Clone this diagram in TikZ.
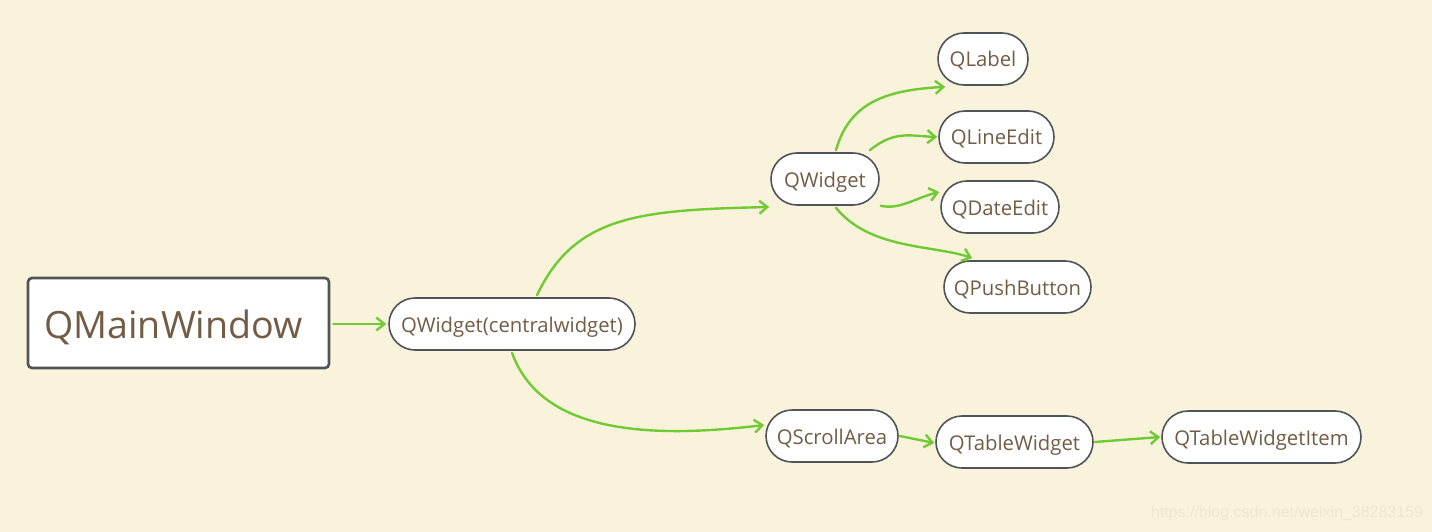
\documentclass[tikz,border=0pt]{standalone}
\usepackage{fontspec}
\setmainfont{Open Sans}
\newfontfamily\wmfont{Liberation Sans}
\usetikzlibrary{arrows.meta,calc}
\definecolor{bgc}{RGB}{250,243,220}
\definecolor{txt}{RGB}{115,92,68}
\definecolor{bord}{RGB}{78,84,90}
\definecolor{arr}{RGB}{112,202,52}
\definecolor{wm}{RGB}{236,230,210}
\tikzset{
  pill/.style={draw=bord, line width=1.6pt, fill=white, rounded corners=26pt,
    minimum height=52pt, inner sep=0pt, text=txt, font=\fontsize{20.3}{24}\selectfont,
    text height=16pt, text depth=0pt},
  mainbox/.style={draw=bord, line width=2.6pt, fill=white, rounded corners=4pt,
    minimum width=301pt, minimum height=90pt, inner sep=0pt, text=txt,
    font=\fontsize{37.6}{42}\selectfont, text height=31pt, text depth=0pt},
  link/.style={draw=arr, line width=2.4pt, line cap=round,
    -{Straight Barb[length=8pt,width=13pt,line width=2.4pt]}}
}
\begin{document}
\begin{tikzpicture}[x=1pt,y=-1pt]
\fill[bgc] (0,0) rectangle (1432,532);
\useasboundingbox (0,0) rectangle (1432,532);

\node[mainbox] (mw) at (178.5,323) {\hspace*{-10pt}QMainWindow};
\node[pill, minimum width=246pt] (cw) at (512,324) {QWidget(centralwidget)};
\node[pill, minimum width=108pt] (qw) at (825,179) {QWidget};
\node[pill, minimum width=90pt] (lb) at (983,59) {QLabel};
\node[pill, minimum width=115pt] (le) at (996.5,137) {QLineEdit};
\node[pill, minimum width=118pt] (de) at (1000,207) {QDateEdit};
\node[pill, minimum width=147pt] (pb) at (1017.5,287) {QPushButton};
\node[pill, minimum width=132pt] (sa) at (832,436) {QScrollArea};
\node[pill, minimum width=157pt] (tw) at (1014.5,442) {QTableWidget};
\node[pill, minimum width=199pt] (ti) at (1261.5,437) {QTableWidgetItem};

\node[text=wm, font=\wmfont\fontsize{16}{19}\selectfont] (wmk) at (1287,513) {https://blog.csdn.net/weixin\_38283159};

\draw[link] ($(mw.east)+(3,1)$) -- ($(cw.west)+(-2,0)$);
\draw[link] ($(cw.north)+(25,-2)$) .. controls (575,215) and (640,210) .. ($(qw.west)+(-1,28)$);
\draw[link] ($(cw.south)+(0,2)$) .. controls (540,430) and (640,440) .. ($(sa.west)+(-1,-11)$);
\draw[link] ($(qw.north)+(11,-2)$) .. controls (850,100) and (890,90) .. ($(lb.south west)+(8,1)$);
\draw[link] ($(qw.north east)+(-10,-2)$) .. controls (895,130) and (910,136) .. ($(le.west)+(-1,0)$);
\draw[link] ($(qw.south east)+(1,0)$) .. controls (900,210) and (915,198) .. ($(de.west)+(-1,-15)$);
\draw[link] ($(qw.south)+(11,2)$) .. controls (870,250) and (935,245) .. ($(pb.north west)+(29,-2)$);
\draw[link] ($(sa.east)+(1,0)$) -- ($(tw.west)+(-1,1)$);
\draw[link] ($(tw.east)+(1,0)$) -- ($(ti.west)+(-1,0)$);
\end{tikzpicture}
\end{document}
